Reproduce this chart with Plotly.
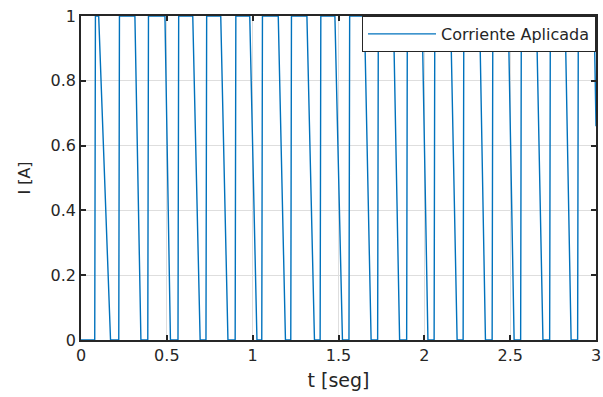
import plotly.graph_objects as go

# Pulse timing (seconds)
rise_t = [0.080, 0.220, 0.389, 0.565, 0.728, 0.898, 1.053, 1.222, 1.393,
          1.561, 1.728, 1.897, 2.057, 2.226, 2.395, 2.561, 2.730, 2.893]
fall_start_t = [0.103, 0.314, 0.489, 0.651, 0.814, 0.983, 1.149, 1.316, 1.479,
                1.651, 1.820, 1.987, 2.153, 2.322, 2.489, 2.653, 2.820, 2.989]
fall_end_t = [0.172, 0.349, 0.521, 0.694, 0.856, 1.025, 1.191, 1.360, 1.523,
              1.690, 1.856, 2.021, 2.191, 2.356, 2.523, 2.691, 2.855]
t_end = 3.0
i_end = 0.66

x_ticks = [0, 0.5, 1, 1.5, 2, 2.5, 3]
x_tick_labels = ["0", "0.5", "1", "1.5", "2", "2.5", "3"]
y_ticks = [0, 0.2, 0.4, 0.6, 0.8, 1]
y_tick_labels = ["0", "0.2", "0.4", "0.6", "0.8", "1"]

t = [0.0]
i = [0.0]
for k, r in enumerate(rise_t):
    t += [r, r + 0.004, fall_start_t[k]]
    i += [0.0, 1.0, 1.0]
    if k < len(fall_end_t):
        t.append(fall_end_t[k])
        i.append(0.0)
t.append(t_end)
i.append(i_end)

FONT = "DejaVu Sans, Verdana, sans-serif"
DARK = "#262626"

fig = go.Figure()
fig.add_trace(go.Scatter(x=t, y=i, mode="lines", name="Corriente Aplicada",
                         line=dict(color="#0072BD", width=1.4)))

axis_common = dict(showline=True, linecolor=DARK, linewidth=1.5, mirror="ticks",
                   ticks="inside", ticklen=5, tickcolor=DARK, tickwidth=1.5,
                   showgrid=True, gridcolor="#dedede", gridwidth=1, zeroline=False,
                   ticklabeloverflow="allow",
                   tickfont=dict(family=FONT, size=16, color=DARK))

fig.update_layout(
    width=603, height=397,
    margin=dict(l=81, r=2, t=16, b=57),
    paper_bgcolor="white", plot_bgcolor="white",
    font=dict(family=FONT, color=DARK),
    xaxis=dict(range=[0, 3], tickvals=x_ticks, ticktext=x_tick_labels,
               title=dict(text="t [seg]", font=dict(family=FONT, size=19, color=DARK), standoff=10),
               **axis_common),
    yaxis=dict(range=[0, 1], tickvals=y_ticks, ticktext=y_tick_labels,
               title=dict(text="I [A]", font=dict(family=FONT, size=16, color=DARK), standoff=16),
               **axis_common),
    showlegend=True,
    legend=dict(x=1, y=1.0, xanchor="right", yanchor="top", bgcolor="white",
                bordercolor=DARK, borderwidth=1, itemwidth=68,
                font=dict(family=FONT, size=16, color=DARK)),
)

fig.write_html("out.html", config={"displayModeBar": False},
               post_script="document.body.style.margin='0';document.body.style.overflow='hidden';")
